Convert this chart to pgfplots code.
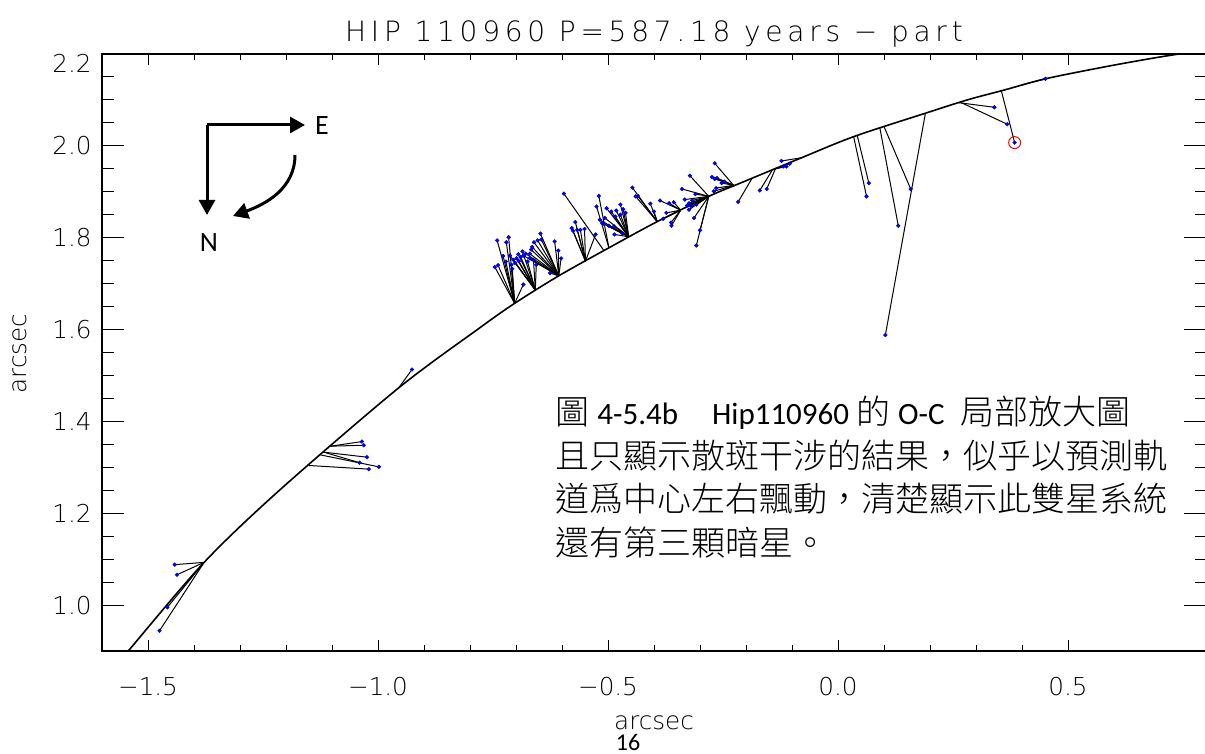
\documentclass[border=0pt]{standalone}
\usepackage{pgfplots}
\pgfplotsset{compat=1.18}
\usepackage{pgfplotstable}
\usepackage{fontspec}
\usetikzlibrary{arrows.meta}

% thin sans for the plot lettering
\IfFontExistsTF{DejaVu Sans ExtraLight}
 {\newfontfamily\idl{DejaVu Sans ExtraLight}
  \newfontfamily\idlwide{DejaVu Sans ExtraLight}[LetterSpace=17]}
 {\newfontfamily\idl{DejaVu Sans}
  \newfontfamily\idlwide{DejaVu Sans}[LetterSpace=17]}
\IfFontExistsTF{Noto Sans CJK TC Light}
 {\newfontfamily\cjk{Noto Sans CJK TC Light}}
 {\newfontfamily\cjk{Noto Sans CJK TC}}
\newfontfamily\calib{Carlito}

% predicted orbit (arcsec)
\pgfplotstableread{
x y
-1.560 0.881
-1.543 0.900
-1.378 1.093
-1.212 1.252
-0.955 1.473
-0.777 1.605
-0.703 1.657
-0.607 1.717
-0.498 1.778
-0.393 1.835
-0.281 1.890
-0.212 1.919
-0.089 1.970
0.034 2.020
0.190 2.071
0.281 2.100
0.363 2.122
0.451 2.146
0.580 2.172
0.697 2.193
0.820 2.212
}\orbit

% O-C: predicted position (x,y) and observed position (xo,yo)
\pgfplotstableread{
x y xo yo
-1.378 1.093 -1.442 1.088
-1.378 1.093 -1.437 1.066
-1.378 1.093 -1.458 0.995
-1.378 1.093 -1.475 0.944
-1.103 1.346 -1.035 1.356
-1.103 1.346 -1.031 1.348
-1.118 1.333 -1.024 1.322
-1.118 1.333 -1.040 1.310
-1.125 1.327 -0.998 1.301
-1.151 1.304 -1.020 1.296
-0.955 1.473 -0.926 1.513
-0.703 1.657 -0.741 1.794
-0.703 1.657 -0.721 1.790
-0.703 1.657 -0.716 1.801
-0.703 1.657 -0.746 1.736
-0.703 1.657 -0.739 1.740
-0.703 1.657 -0.708 1.732
-0.703 1.657 -0.684 1.698
-0.703 1.657 -0.710 1.741
-0.703 1.657 -0.728 1.760
-0.703 1.657 -0.722 1.748
-0.658 1.686 -0.713 1.761
-0.658 1.686 -0.706 1.752
-0.658 1.686 -0.699 1.755
-0.658 1.686 -0.690 1.758
-0.658 1.686 -0.656 1.741
-0.658 1.686 -0.694 1.749
-0.658 1.686 -0.695 1.764
-0.658 1.686 -0.702 1.745
-0.658 1.686 -0.675 1.748
-0.658 1.686 -0.662 1.752
-0.658 1.686 -0.686 1.770
-0.607 1.717 -0.684 1.761
-0.607 1.717 -0.679 1.765
-0.607 1.717 -0.670 1.755
-0.607 1.717 -0.670 1.765
-0.607 1.717 -0.667 1.774
-0.607 1.717 -0.665 1.780
-0.607 1.717 -0.661 1.790
-0.607 1.717 -0.653 1.794
-0.607 1.717 -0.645 1.796
-0.607 1.717 -0.647 1.809
-0.607 1.717 -0.626 1.723
-0.607 1.717 -0.616 1.792
-0.607 1.717 -0.608 1.772
-0.607 1.717 -0.602 1.755
-0.549 1.749 -0.579 1.821
-0.549 1.749 -0.571 1.834
-0.549 1.749 -0.576 1.815
-0.549 1.749 -0.567 1.817
-0.549 1.749 -0.560 1.817
-0.549 1.749 -0.551 1.819
-0.549 1.749 -0.527 1.807
-0.509 1.772 -0.596 1.896
-0.498 1.778 -0.520 1.891
-0.498 1.778 -0.525 1.868
-0.455 1.802 -0.503 1.864
-0.455 1.802 -0.518 1.839
-0.455 1.802 -0.507 1.843
-0.455 1.802 -0.513 1.832
-0.455 1.802 -0.509 1.830
-0.455 1.802 -0.493 1.857
-0.455 1.802 -0.484 1.846
-0.455 1.802 -0.482 1.859
-0.455 1.802 -0.473 1.872
-0.455 1.802 -0.467 1.862
-0.455 1.802 -0.462 1.854
-0.455 1.802 -0.473 1.850
-0.455 1.802 -0.498 1.826
-0.455 1.802 -0.487 1.825
-0.455 1.802 -0.486 1.807
-0.455 1.802 -0.469 1.810
-0.393 1.835 -0.447 1.909
-0.393 1.835 -0.440 1.890
-0.393 1.835 -0.435 1.891
-0.393 1.835 -0.408 1.874
-0.393 1.835 -0.400 1.857
-0.342 1.860 -0.387 1.881
-0.342 1.860 -0.367 1.875
-0.342 1.860 -0.357 1.877
-0.342 1.860 -0.373 1.854
-0.342 1.860 -0.380 1.841
-0.342 1.860 -0.363 1.833
-0.342 1.860 -0.362 1.826
-0.281 1.890 -0.322 1.935
-0.281 1.890 -0.339 1.906
-0.281 1.890 -0.333 1.883
-0.281 1.890 -0.324 1.875
-0.281 1.890 -0.317 1.881
-0.281 1.890 -0.310 1.895
-0.281 1.890 -0.308 1.872
-0.281 1.890 -0.324 1.861
-0.281 1.890 -0.313 1.843
-0.281 1.890 -0.300 1.816
-0.281 1.890 -0.308 1.783
-0.281 1.890 -0.328 1.870
-0.281 1.890 -0.319 1.868
-0.227 1.914 -0.268 1.962
-0.227 1.914 -0.274 1.932
-0.227 1.914 -0.268 1.928
-0.227 1.914 -0.263 1.930
-0.227 1.914 -0.253 1.919
-0.227 1.914 -0.247 1.922
-0.227 1.914 -0.270 1.901
-0.227 1.914 -0.265 1.908
-0.187 1.929 -0.217 1.878
-0.143 1.947 -0.170 1.903
-0.136 1.950 -0.155 1.906
-0.080 1.974 -0.123 1.967
-0.140 1.949 -0.119 1.955
-0.140 1.949 -0.112 1.955
-0.140 1.949 -0.105 1.961
0.042 2.022 0.067 1.919
0.034 2.020 0.062 1.890
0.091 2.039 0.131 1.826
0.100 2.042 0.158 1.906
0.190 2.071 0.103 1.588
0.262 2.094 0.340 2.084
0.266 2.095 0.368 2.047
0.355 2.120 0.384 2.007
0.400 2.133 0.451 2.146
}\octable

\pgfplotsset{
  frame/.style={
    at={(51pt,51.5pt)}, anchor=south west,
    scale only axis, width=552pt, height=298.5pt,
    xmin=-1.6, xmax=0.8, ymin=0.9, ymax=2.2,
    axis line style={line width=0.75pt, black},
    tick align=inside,
    tick style={line width=0.5pt, black},
    ticklabel style={font=\idl\fontsize{12.3pt}{14pt}\selectfont, inner sep=0pt},
  }
}

\begin{document}
\begin{tikzpicture}
% x ticks and the data
\begin{axis}[frame,
  xtick={-1.5,-1,-0.5,0,0.5},
  xticklabels={−1.5,−1.0,−0.5,0.0,0.5},
  minor x tick num=4,
  ytick=\empty,
  xtick pos=both,
  major tick length=5.5pt, minor tick length=3pt,
  xticklabel style={anchor=north, yshift=-13pt},
]
\addplot[black, line width=0.8pt, smooth, no markers] table[x=x,y=y] {\orbit};
\addplot[black, line width=0.5pt, no markers,
  quiver={u=\thisrow{xo}-\thisrow{x}, v=\thisrow{yo}-\thisrow{y}}]
  table[x=x,y=y] {\octable};
\addplot[only marks, mark=*, mark size=0.95pt,
  mark options={fill=blue, draw=blue!70!black, line width=0.2pt}]
  table[x=xo,y=yo] {\octable};
\addplot[only marks, mark=o, mark size=3pt,
  mark options={draw=red, line width=0.5pt}]
  coordinates {(0.384,2.007)};
\end{axis}
% y ticks
\begin{axis}[frame,
  xtick=\empty,
  ytick={1.0,1.2,1.4,1.6,1.8,2.0,2.2},
  yticklabels={1.0,1.2,1.4,1.6,1.8,2.0,\raisebox{-4.5pt}[\height][0pt]{2.2}},
  minor y tick num=3,
  ytick pos=both,
  major tick length=11pt, minor tick length=5.75pt,
  yticklabel style={anchor=east, xshift=-5pt},
]
\end{axis}

% title and axis names
\node[anchor=base, font=\idlwide\fontsize{14pt}{16pt}\selectfont]
  at (327pt,356pt) {HIP 110960 P=587.18 years − part};
\node[font=\idl\fontsize{12.3pt}{14pt}\selectfont, inner sep=0pt]
  at (327pt,15.5pt) {arcsec};
\node[font=\idl\fontsize{12.3pt}{14pt}\selectfont, inner sep=0pt, rotate=90]
  at (10pt,200.25pt) {arcsec};
\node[font=\calib\fontsize{12pt}{14pt}\selectfont, inner sep=0pt]
  at (314pt,5.75pt) {16};

% orientation: E to the right, N down, direction of motion
\draw[line width=1.5pt, -{Triangle[length=7.5pt,width=8pt]}]
  (103.5pt,314.5pt) -- (152.5pt,314.5pt);
\draw[line width=1.5pt, -{Triangle[length=7.5pt,width=8pt]}]
  (103.5pt,314.5pt) -- (103.5pt,269.5pt);
\draw[line width=1.5pt, -{Triangle[length=7.5pt,width=8pt]}]
  (147.5pt,299.5pt) to[out=-90,in=20] (116.5pt,269pt);
\node[font=\calib\fontsize{14pt}{16pt}\selectfont, inner sep=0pt]
  at (161pt,314pt) {E};
\node[font=\calib\fontsize{14pt}{16pt}\selectfont, inner sep=0pt]
  at (104.5pt,255.5pt) {N};

% caption text
\newcommand\lat[1]{{\calib\fontsize{15.5pt}{18pt}\selectfont #1}}
\begin{scope}[every node/.style={anchor=base west, inner sep=0pt,
    font=\cjk\fontsize{17pt}{20pt}\selectfont}]
\node at (277.5pt,164.5pt) {圖\hspace{4pt}\lat{4-5.4b}\hspace{17pt}\lat{Hip110960}\hspace{3.5pt}的\hspace{4pt}\lat{O-C}\hspace{8pt}局部放大圖};
\node at (277.5pt,142.75pt) {且只顯示散斑干涉的結果，似乎以預測軌};
\node at (277.5pt,121pt) {道爲中心左右飄動，清楚顯示此雙星系統};
\node at (277.5pt,99.25pt) {還有第三顆暗星。};
\end{scope}

\pgfresetboundingbox
\useasboundingbox (0,0) rectangle (602.5pt,377pt);
\end{tikzpicture}
\end{document}
